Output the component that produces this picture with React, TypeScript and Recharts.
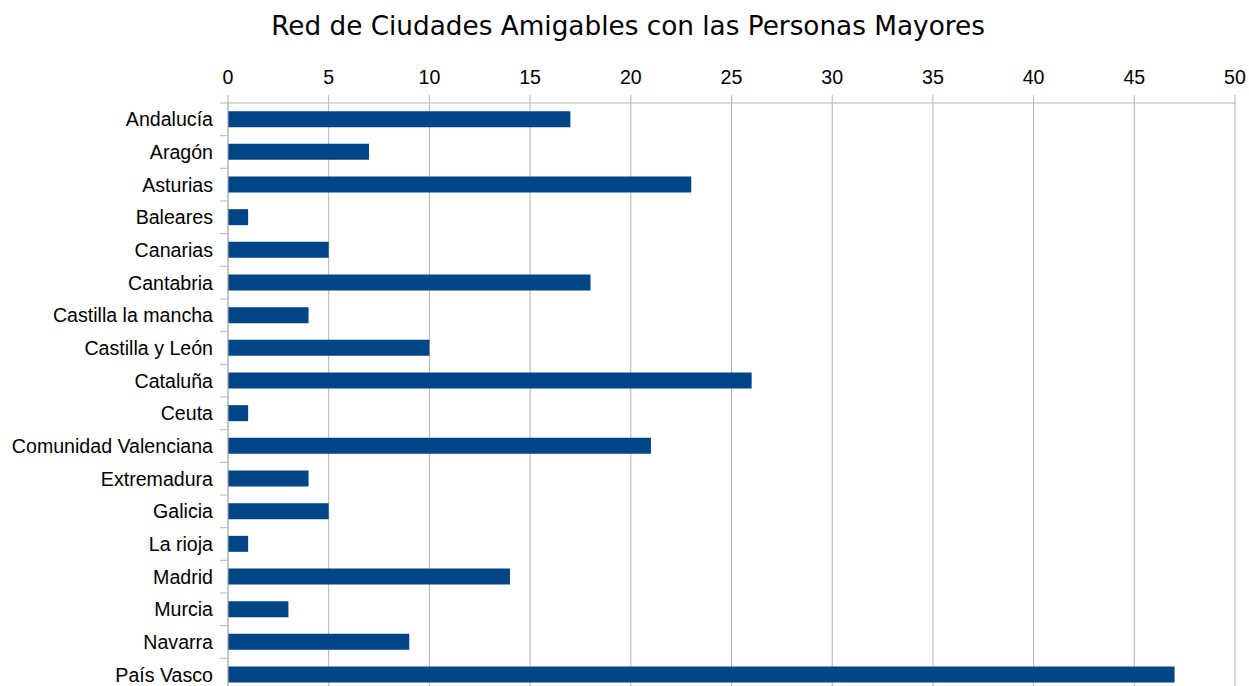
import { BarChart, Bar, XAxis, YAxis, CartesianGrid } from 'recharts';

const regions = [
  'Andalucía', 'Aragón', 'Asturias', 'Baleares', 'Canarias', 'Cantabria',
  'Castilla la mancha', 'Castilla y León', 'Cataluña', 'Ceuta',
  'Comunidad Valenciana', 'Extremadura', 'Galicia', 'La rioja', 'Madrid',
  'Murcia', 'Navarra', 'País Vasco',
];
const cities = [17, 7, 23, 1, 5, 18, 4, 10, 26, 1, 21, 4, 5, 1, 14, 3, 9, 47];
const xTicks = [0, 5, 10, 15, 20, 25, 30, 35, 40, 45, 50];

const data = regions.map((region, i) => ({ region, total: cities[i] }));

const W = 1249;
const H = 700;
const X_AXIS_H = 40;
const chartMargin = { top: 63, right: 14, bottom: 9, left: 0 };
const plotH = H - chartMargin.top - X_AXIS_H - chartMargin.bottom;
const band = plotH / regions.length;

const FONT = '"Liberation Sans", Arial, sans-serif';
const GRID = '#b3b3b3';

// category ticks sit on the band boundaries, labels on the centre
function RegionTick(props: any) {
  const { x, y, payload } = props;
  return (
    <g>
      <line x1={x + 7} x2={x + 15} y1={y - band / 2} y2={y - band / 2} stroke={GRID} />
      <text x={x} y={y} dy={7} textAnchor="end" fill="#000" fontSize={19.6} fontFamily={FONT}>
        {payload.value}
      </text>
    </g>
  );
}

export default function App() {
  return (
    <div style={{ position: 'relative', width: W, height: 686, overflow: 'hidden', background: '#fff' }}>
      <style>{'body{margin:0}'}</style>
      <div
        style={{
          position: 'absolute', top: 11, left: 0, width: W, textAlign: 'center',
          fontFamily: '"DejaVu Sans", sans-serif', fontSize: 26.3, color: '#000',
          paddingLeft: 7, boxSizing: 'border-box',
        }}
      >
        Red de Ciudades Amigables con las Personas Mayores
      </div>
      <BarChart
        width={W}
        height={H}
        data={data}
        layout="vertical"
        margin={chartMargin}
        barCategoryGap="25%"
      >
        <CartesianGrid horizontal={false} stroke={GRID} />
        <XAxis
          type="number"
          orientation="top"
          domain={[0, 50]}
          ticks={xTicks}
          height={X_AXIS_H}
          stroke={GRID}
          tickSize={8}
          tickMargin={11}
          tick={{ fill: '#000', fontSize: 19.6, fontFamily: FONT }}
          interval={0}
        />
        <YAxis
          type="category"
          dataKey="region"
          width={228}
          stroke={GRID}
          tickLine={false}
          tickSize={0}
          tickMargin={15}
          interval={0}
          tick={<RegionTick />}
        />
        <Bar dataKey="total" fill="#004586" isAnimationActive={false} />
      </BarChart>
    </div>
  );
}
